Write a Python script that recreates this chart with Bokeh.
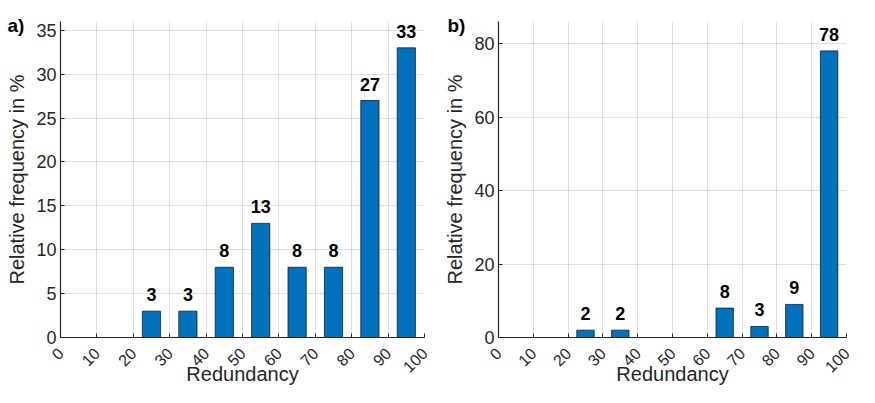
import math
from bokeh.plotting import figure
from bokeh.layouts import row
from bokeh.models import ColumnDataSource, FixedTicker, LabelSet, Label, Range1d
from bokeh.core.properties import value
from bokeh.embed import file_html
from bokeh.resources import INLINE

# ---- data ----
bin_edges = [0, 10, 20, 30, 40, 50, 60, 70, 80, 90, 100]
x_tick_labels = ["0", "10", "20", "30", "40", "50", "60", "70", "80", "90", "100"]
freq_a = [0, 0, 3, 3, 8, 13, 8, 8, 27, 33]
freq_b = [0, 0, 2, 2, 0, 0, 8, 3, 9, 78]
y_ticks_a = [0, 5, 10, 15, 20, 25, 30, 35]
y_ticks_b = [0, 20, 40, 60, 80]
y_max_a = 36
y_max_b = 86
panel_tags = ["a)", "b)"]
x_label = "Redundancy"
y_label = "Relative frequency in %"

FONT = "Liberation Sans"
DARK = "#262626"
BAR = "#0072BD"


def make_panel(freq, y_ticks, y_max, tag, width, b_left, b_right, tag_dx):
    centers = [(bin_edges[i] + bin_edges[i + 1]) / 2 for i in range(len(freq))]
    bw = (bin_edges[1] - bin_edges[0]) * 0.5
    p = figure(width=width, height=387, output_backend="svg", toolbar_location=None,
               x_range=Range1d(bin_edges[0], bin_edges[-1]), y_range=Range1d(0, y_max),
               min_border_left=b_left, min_border_right=b_right,
               min_border_top=20, min_border_bottom=40)
    p.outline_line_color = None
    p.background_fill_color = "white"
    p.border_fill_color = "white"

    src = ColumnDataSource(dict(x=centers, top=freq))
    p.vbar(x="x", top="top", width=bw, bottom=0, source=src,
           fill_color=BAR, line_color="#1a1a1a", line_width=0.8)

    lab_x = [c for c, f in zip(centers, freq) if f > 0]
    lab_y = [f for f in freq if f > 0]
    lab_t = [str(f) for f in freq if f > 0]
    lsrc = ColumnDataSource(dict(x=lab_x, y=lab_y, t=lab_t))
    p.add_layout(LabelSet(x="x", y="y", text="t", source=lsrc, y_offset=10,
                          text_align="center", text_baseline="alphabetic",
                          text_font=value(FONT), text_font_style="bold",
                          text_font_size="18px", text_color="black"))

    p.xaxis.ticker = FixedTicker(ticks=bin_edges)
    p.xaxis.major_label_overrides = {e: t for e, t in zip(bin_edges, x_tick_labels)}
    p.yaxis.ticker = FixedTicker(ticks=y_ticks)
    p.xgrid.ticker = FixedTicker(ticks=bin_edges)
    p.ygrid.ticker = FixedTicker(ticks=y_ticks)
    for g in (p.xgrid, p.ygrid):
        g.grid_line_color = DARK
        g.grid_line_alpha = 0.15
        g.grid_line_width = 1

    for ax in (p.xaxis, p.yaxis):
        ax.axis_line_color = DARK
        ax.axis_line_width = 1.2
        ax.major_tick_line_color = DARK
        ax.major_tick_in = 4
        ax.major_tick_out = 0
        ax.minor_tick_line_color = None
        ax.major_label_text_font = FONT
        ax.major_label_text_color = DARK
        ax.axis_label_text_font = FONT
        ax.axis_label_text_font_size = "20px"
        ax.axis_label_text_font_style = "normal"
        ax.axis_label_text_color = DARK
    p.xaxis.major_label_text_font_size = "16px"
    p.yaxis.major_label_text_font_size = "18px"
    p.xaxis.axis_label = x_label
    p.yaxis.axis_label = y_label
    p.xaxis.major_label_orientation = math.pi / 4
    p.xaxis.major_label_standoff = 13
    p.xaxis.axis_label_standoff = -18
    p.yaxis.major_label_standoff = 4
    p.yaxis.axis_label_standoff = 5

    # panel tag placed in the top side panel so that it is not clipped to the frame
    p.add_layout(Label(x=bin_edges[0], y=y_max, x_offset=tag_dx, y_offset=7,
                       text=tag, text_font=FONT, text_font_style="bold",
                       text_font_size="19px", text_color="black",
                       text_baseline="top", text_align="left"), "above")
    return p


p1 = make_panel(freq_a, y_ticks_a, y_max_a, panel_tags[0], 436, 60, 12, -53)
p2 = make_panel(freq_b, y_ticks_b, y_max_b, panel_tags[1], 423, 62, 13, -51)
layout = row(p1, p2)

open("out.html", "w").write(file_html(layout, INLINE))
